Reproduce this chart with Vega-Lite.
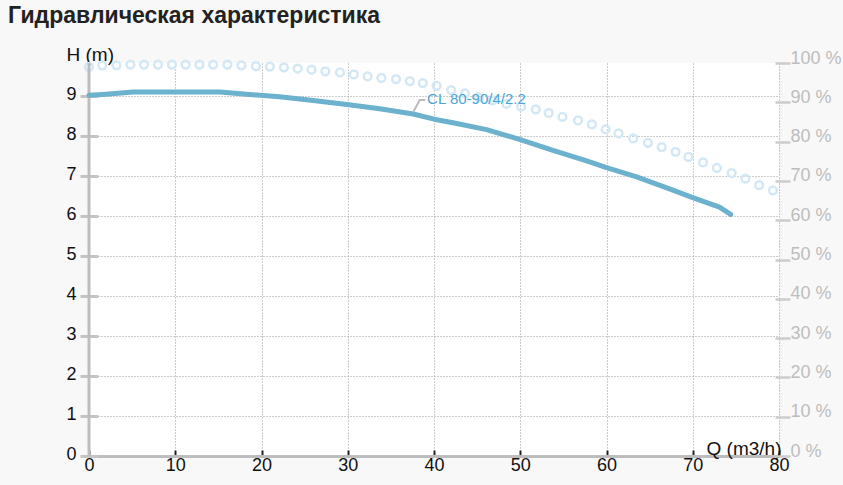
{
  "$schema": "https://vega.github.io/schema/vega-lite/v6.json",
  "width": 690,
  "height": 393,
  "autosize": "none",
  "padding": {"left": 89, "top": 63, "right": 64, "bottom": 29},
  "background": "#f8f8f8",
  "title": {
    "text": "Гидравлическая характеристика",
    "anchor": "start",
    "frame": "group",
    "dx": -81,
    "offset": 17,
    "font": "Liberation Sans",
    "fontSize": 23,
    "fontWeight": "bold",
    "color": "#222222"
  },
  "datasets": {
    "efficiency": [
      {"Q": 0, "E": 99.0}, {"Q": 1.55, "E": 99.4}, {"Q": 3.18, "E": 99.4}, {"Q": 4.8, "E": 99.6},
      {"Q": 6.38, "E": 99.6}, {"Q": 8.0, "E": 99.6}, {"Q": 9.62, "E": 99.6}, {"Q": 11.2, "E": 99.6},
      {"Q": 12.8, "E": 99.6}, {"Q": 14.4, "E": 99.6}, {"Q": 16.05, "E": 99.6}, {"Q": 17.67, "E": 99.4},
      {"Q": 19.35, "E": 99.2}, {"Q": 20.97, "E": 99.1}, {"Q": 22.6, "E": 98.9}, {"Q": 24.2, "E": 98.6},
      {"Q": 25.8, "E": 98.3}, {"Q": 27.4, "E": 97.9}, {"Q": 29.1, "E": 97.6}, {"Q": 30.7, "E": 97.1},
      {"Q": 32.3, "E": 96.6}, {"Q": 33.9, "E": 96.2}, {"Q": 35.6, "E": 95.9}, {"Q": 37.2, "E": 95.4},
      {"Q": 38.7, "E": 94.9}, {"Q": 40.3, "E": 94.2}, {"Q": 42.0, "E": 93.1}, {"Q": 43.6, "E": 92.3},
      {"Q": 45.2, "E": 91.3}, {"Q": 46.8, "E": 90.5}, {"Q": 48.4, "E": 89.6}, {"Q": 50.1, "E": 88.9},
      {"Q": 51.8, "E": 88.2}, {"Q": 53.3, "E": 87.3}, {"Q": 54.9, "E": 86.3}, {"Q": 56.7, "E": 85.4},
      {"Q": 58.3, "E": 84.4}, {"Q": 59.9, "E": 83.1}, {"Q": 61.4, "E": 82.1}, {"Q": 63.1, "E": 80.8},
      {"Q": 64.8, "E": 79.7}, {"Q": 66.4, "E": 78.6}, {"Q": 68.0, "E": 77.4}, {"Q": 69.5, "E": 76.1},
      {"Q": 71.2, "E": 74.7}, {"Q": 72.8, "E": 73.3}, {"Q": 74.5, "E": 72.0}, {"Q": 76.1, "E": 70.6},
      {"Q": 77.7, "E": 68.9}, {"Q": 79.3, "E": 67.6}
    ],
    "head": [
      {"Q": 0, "H": 9.02}, {"Q": 1.6, "H": 9.04}, {"Q": 5.1, "H": 9.1}, {"Q": 10, "H": 9.1},
      {"Q": 15.2, "H": 9.1}, {"Q": 18.6, "H": 9.04}, {"Q": 22.1, "H": 8.98}, {"Q": 26, "H": 8.89},
      {"Q": 29.9, "H": 8.79}, {"Q": 33.7, "H": 8.68}, {"Q": 37.6, "H": 8.55}, {"Q": 40, "H": 8.42},
      {"Q": 42.2, "H": 8.33}, {"Q": 46.1, "H": 8.16}, {"Q": 50, "H": 7.91}, {"Q": 53.8, "H": 7.64},
      {"Q": 57.7, "H": 7.38}, {"Q": 60, "H": 7.21}, {"Q": 63.5, "H": 6.98}, {"Q": 67.3, "H": 6.68},
      {"Q": 70, "H": 6.46}, {"Q": 73.1, "H": 6.22}, {"Q": 74.4, "H": 6.04}
    ],
    "leader": [
      {"Q": 37.6, "H": 8.6}, {"Q": 38.35, "H": 8.9}, {"Q": 39.0, "H": 8.9}
    ],
    "label": [
      {"Q": 39.2, "H": 8.92, "name": "CL 80-90/4/2.2"}
    ],
    "edge": [
      {"Q": 0}
    ]
  },
  "encoding": {
    "x": {
      "field": "Q",
      "type": "quantitative",
      "scale": {"domain": [0, 80], "nice": false, "zero": false},
      "axis": {
        "values": [0, 10, 20, 30, 40, 50, 60, 70, 80],
        "domainColor": "#bdbdbd",
        "domainWidth": 3,
        "tickColor": "#222222",
        "tickWidth": 2,
        "tickSize": -6,
        "labelPadding": 6,
        "labelFontSize": 18,
        "labelColor": "#111111",
        "labelFont": "Liberation Sans",
        "labelFlush": false,
        "grid": true,
        "gridColor": "#9a9a9a",
        "gridDash": [1, 2],
        "gridWidth": 1,
        "title": "Q (m3/h)",
        "titleFont": "Liberation Sans",
        "titleFontSize": 19,
        "titleFontWeight": "normal",
        "titleColor": "#111111",
        "titleAlign": "right",
        "titleBaseline": "alphabetic",
        "titleAnchor": "end",
        "titleX": 692,
        "titleY": -2
      }
    }
  },
  "layer": [
    {
      "data": {"name": "efficiency"},
      "mark": {"type": "point", "shape": "circle", "filled": false, "size": 60, "strokeWidth": 2.5, "color": "#d2e8f4", "opacity": 1},
      "encoding": {
        "y": {
          "field": "E",
          "type": "quantitative",
          "scale": {"domain": [0, 100], "nice": false},
          "axis": {
            "orient": "right",
            "values": [0, 10, 20, 30, 40, 50, 60, 70, 80, 90, 100],
            "labelExpr": "datum.value + ' %'",
            "offset": -4,
            "domain": false,
            "grid": false,
            "tickSize": 15,
            "tickWidth": 2.5,
            "tickColor": "#cccccc",
            "labelPadding": 0,
            "labelOffset": -5,
            "labelFontSize": 18,
            "labelFont": "Liberation Sans",
            "labelColor": "#bdbdbd",
            "labelFlush": false,
            "title": null
          }
        }
      }
    },
    {
      "layer": [
        {
          "data": {"name": "edge"},
          "mark": {"type": "rule", "color": "#bdbdbd", "strokeWidth": 3},
          "encoding": {"x": {"field": "Q", "type": "quantitative"}}
        },
        {
          "data": {"name": "head"},
          "mark": {"type": "line", "color": "#6cb1cd", "strokeWidth": 5, "strokeCap": "round", "strokeJoin": "round"},
          "encoding": {
            "y": {
              "field": "H",
              "type": "quantitative",
              "scale": {"domain": [0, 9.825], "nice": false},
              "axis": {
                "orient": "left",
                "values": [0, 1, 2, 3, 4, 5, 6, 7, 8, 9],
                "offset": -9,
                "domain": false,
                "tickSize": 18,
                "tickWidth": 3,
                "tickColor": "#c4c4c4",
                "labelPadding": 4,
                "labelOffset": -2,
                "labelFontSize": 18,
                "labelFont": "Liberation Sans",
                "labelColor": "#111111",
                "labelFlush": false,
                "grid": true,
                "gridColor": "#9a9a9a",
                "gridDash": [1, 2],
                "gridWidth": 1,
                "title": "H (m)",
                "titleFont": "Liberation Sans",
                "titleFontSize": 19,
                "titleFontWeight": "normal",
                "titleColor": "#111111",
                "titleAngle": 0,
                "titleAlign": "left",
                "titleBaseline": "alphabetic",
                "titleX": -32,
                "titleY": -3
              }
            }
          }
        },
        {
          "data": {"name": "leader"},
          "mark": {"type": "line", "color": "#bbbbbb", "strokeWidth": 2},
          "encoding": {"y": {"field": "H", "type": "quantitative"}}
        },
        {
          "data": {"name": "label"},
          "mark": {"type": "text", "align": "left", "baseline": "middle", "font": "Liberation Sans", "fontSize": 15, "color": "#4aa6d6"},
          "encoding": {
            "y": {"field": "H", "type": "quantitative"},
            "text": {"field": "name", "type": "nominal"}
          }
        }
      ]
    }
  ],
  "resolve": {"scale": {"y": "independent"}},
  "config": {
    "view": {"stroke": null, "fill": "#ffffff"}
  }
}
